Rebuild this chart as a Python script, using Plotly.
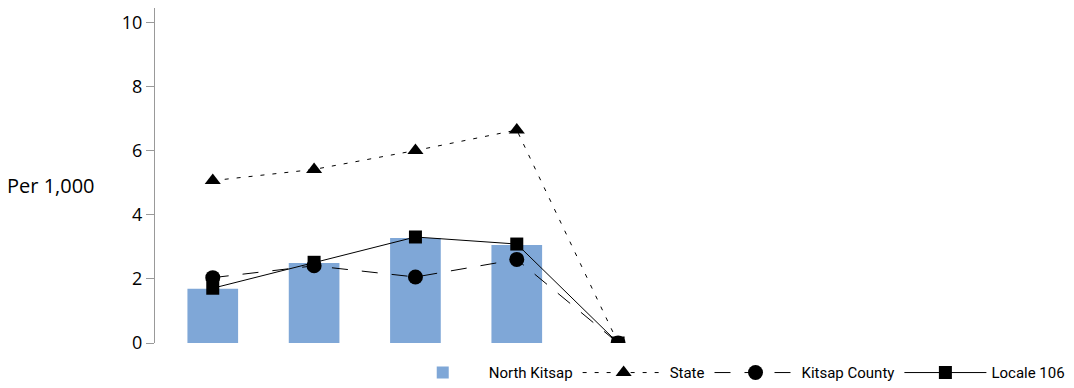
import plotly.graph_objects as go

# categories (unlabelled in the source chart)
cats = [0, 1, 2, 3, 4]

north_kitsap = [1.69, 2.50, 3.28, 3.06]
state = [5.07, 5.42, 6.01, 6.65, 0.0]
kitsap_county = [2.04, 2.41, 2.06, 2.61, 0.0]
locale_106 = [1.71, 2.52, 3.31, 3.09, 0.0]

y_ticks = [0, 2, 4, 6, 8, 10]

fig = go.Figure()

fig.add_trace(go.Bar(
    x=cats[:4], y=north_kitsap, name='North Kitsap',
    marker=dict(color='#7FA7D7', line=dict(width=0)),
    width=0.5,
))
fig.add_trace(go.Scatter(
    x=cats, y=state, name='State', mode='lines+markers',
    line=dict(color='black', width=1, dash='4px,8px'),
    marker=dict(symbol='triangle-up', size=14, color='black'),
))
fig.add_trace(go.Scatter(
    x=cats, y=kitsap_county, name='Kitsap County', mode='lines+markers',
    line=dict(color='black', width=1, dash='16px,14px'),
    marker=dict(symbol='circle', size=15, color='black'),
))
fig.add_trace(go.Scatter(
    x=cats, y=locale_106, name='Locale 106', mode='lines+markers',
    line=dict(color='black', width=1),
    marker=dict(symbol='square', size=13, color='black'),
))

# page has an 8px body margin, so the figure is sized/shifted to compensate
fig.update_layout(
    width=1066, height=380,
    margin=dict(l=147, r=10, t=0, b=45, autoexpand=False),
    plot_bgcolor='white', paper_bgcolor='white',
    font=dict(family='Open Sans', color='black'),
    xaxis=dict(
        range=[-0.57, 8.4], showticklabels=False, showgrid=False,
        zeroline=False, showline=False, ticks='',
    ),
    yaxis=dict(
        range=[0, 10.46], tickvals=y_ticks, showgrid=False, zeroline=False,
        showline=True, linecolor='#999999', linewidth=1,
        ticks='outside', ticklen=8, tickcolor='#999999',
        tickfont=dict(size=18, family='Open Sans'),
    ),
    legend=dict(
        orientation='h', xref='container', yref='container',
        x=0.996, xanchor='right', y=0.04, yanchor='middle',
        font=dict(size=15, family='Roboto'),
        itemwidth=82, traceorder='normal',
    ),
    bargap=0.5,
    annotations=[dict(
        text='Per 1,000', xref='paper', yref='paper', x=-0.165, y=0.469,
        xanchor='left', yanchor='middle', showarrow=False,
        font=dict(size=20, family='Open Sans'),
    )],
)

fig.write_html('out.html')
